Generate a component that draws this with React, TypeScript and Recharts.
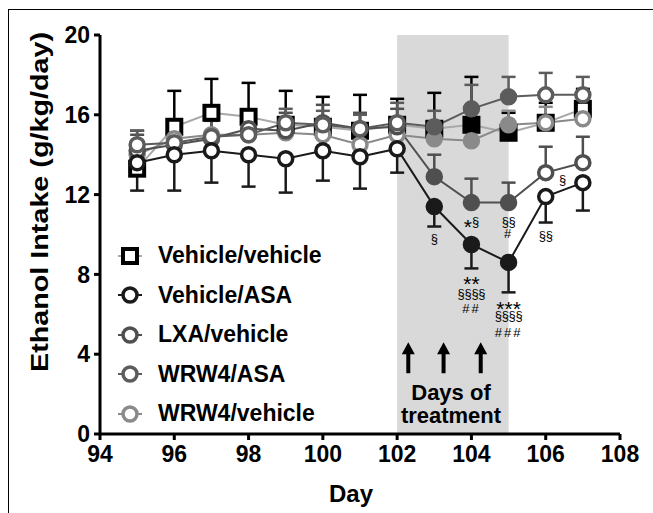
import React from 'react';
import {
	ComposedChart,
	Line,
	XAxis,
	YAxis,
	ErrorBar,
	ReferenceArea,
	ReferenceDot,
	Legend,
} from 'recharts';

const days = [95, 96, 97, 98, 99, 100, 101, 102, 103, 104, 105, 106, 107];
const treatmentDays = [103, 104, 105];
const arrowDays = [102.3, 103.25, 104.25];

// mean intake per group
const vehVeh = [13.3, 15.4, 16.1, 15.9, 15.5, 15.4, 15.2, 15.5, 15.3, 15.5, 15.1, 15.6, 16.3];
const vehAsa = [13.6, 14.0, 14.2, 14.0, 13.8, 14.2, 13.9, 14.3, 11.4, 9.5, 8.6, 11.9, 12.6];
const lxaVeh = [14.2, 14.5, 14.8, 15.3, 15.2, 15.6, 15.3, 15.4, 12.9, 11.6, 11.6, 13.1, 13.6];
const wrwAsa = [14.5, 14.6, 14.9, 15.0, 15.6, 15.5, 15.3, 15.6, 15.4, 16.3, 16.9, 17.0, 17.0];
const wrwVeh = [14.0, 14.8, 15.0, 15.0, 15.1, 15.0, 14.5, 15.0, 14.8, 14.7, 15.5, 15.6, 15.8];

// SEM (only one side is drawn, like the original)
const vehVehErr = [1.9, 1.8, 1.7, 1.7, 1.7, 1.5, 1.8, 1.3, 1.8, 2.4, 1.0, 1.0, 1.0];
const vehAsaErr = [1.4, 1.8, 1.6, 1.6, 1.7, 1.5, 1.6, 1.2, 1.0, 1.2, 1.5, 1.3, 1.4];
const lxaVehErr = [0.8, 0.8, 0.9, 0.9, 0.9, 0.9, 0.8, 0.9, 1.1, 1.2, 1.0, 1.3, 1.3];
const wrwAsaErr = [0.7, 0.7, 0.8, 0.8, 0.7, 0.7, 0.7, 1.0, 0.8, 1.2, 1.0, 1.1, 0.9];
const wrwVehErr = [0.6, 0.6, 0.7, 0.7, 0.6, 0.6, 0.6, 0.8, 0.7, 0.8, 0.7, 0.8, 0.7];

const notes = [
	{ day: 103, value: 9.8, text: '§' },
	{ day: 104, value: 10.7, text: '*§' },
	{ day: 105, value: 10.7, text: '§§' },
	{ day: 105, value: 10.1, text: '#' },
	{ day: 104, value: 7.8, text: '**' },
	{ day: 104, value: 7.05, text: '§§§§' },
	{ day: 104, value: 6.3, text: '##' },
	{ day: 105, value: 6.55, text: '***' },
	{ day: 105, value: 5.95, text: '§§§§' },
	{ day: 105, value: 5.1, text: '###' },
	{ day: 106, value: 10.0, text: '§§' },
	{ day: 106.45, value: 12.8, text: '§' },
];

const series = [
	{ key: 'vehVeh', name: 'Vehicle/vehicle', values: vehVeh, err: vehVehErr, up: true, color: '#000000', line: '#a8a8a8', square: true },
	{ key: 'wrwVeh', name: 'WRW4/vehicle', values: wrwVeh, err: wrwVehErr, up: true, color: '#8a8a8a', line: '#8a8a8a', square: false },
	{ key: 'lxaVeh', name: 'LXA/vehicle', values: lxaVeh, err: lxaVehErr, up: true, color: '#4f4f4f', line: '#4f4f4f', square: false },
	{ key: 'wrwAsa', name: 'WRW4/ASA', values: wrwAsa, err: wrwAsaErr, up: true, color: '#5c5c5c', line: '#5c5c5c', square: false },
	{ key: 'vehAsa', name: 'Vehicle/ASA', values: vehAsa, err: vehAsaErr, up: false, color: '#1a1a1a', line: '#1a1a1a', square: false },
];
const legendOrder = ['vehVeh', 'vehAsa', 'lxaVeh', 'wrwAsa', 'wrwVeh'];

const data = days.map((d, i) => {
	const row: any = { day: d };
	series.forEach(s => {
		row[s.key] = s.values[i];
		row[s.key + 'Err'] = s.up ? [0, s.err[i]] : [s.err[i], 0];
	});
	return row;
});

const font = '"Liberation Sans", Arial, sans-serif';

const Marker = ({ cx, cy, color, filled, square }: any) =>
	square ? (
		<rect x={cx - 7} y={cy - 7} width={14} height={14} fill={filled ? color : '#fff'} stroke={color} strokeWidth={4} />
	) : (
		<circle cx={cx} cy={cy} r={7} fill={filled ? color : '#fff'} stroke={color} strokeWidth={3.5} />
	);

const makeDot = (s: any) => (props: any) => {
	const { cx, cy, payload, index } = props;
	return (
		<Marker
			key={s.key + index}
			cx={cx}
			cy={cy}
			color={s.color}
			square={s.square}
			filled={treatmentDays.includes(payload.day)}
		/>
	);
};

const LegendBox = () => (
	<div style={{ fontFamily: font, fontWeight: 'bold', fontSize: 23 }}>
		{legendOrder.map(k => {
			const s: any = series.find(x => x.key === k);
			return (
				<div key={k} style={{ display: 'flex', alignItems: 'center', height: 39.5 }}>
					<svg width={40} height={24} style={{ marginRight: 2 }}>
						<line x1={2} y1={12} x2={26} y2={12} stroke={s.line} strokeWidth={2} />
						<Marker cx={14} cy={12} color={s.color} square={s.square} filled={false} />
					</svg>
					<span>{s.name}</span>
				</div>
			);
		})}
	</div>
);

const Arrow = ({ cx, cy }: any) => (
	<g>
		<rect x={cx - 2} y={cy + 10} width={4} height={21} fill='#000' />
		<path d={`M${cx - 6.5},${cy + 12} L${cx},${cy} L${cx + 6.5},${cy + 12} Z`} fill='#000' />
	</g>
);

// stars are drawn larger and pulled down, § and # small
const Note = ({ cx, cy, text }: any) => {
	const parts = text.match(/(\*+|§+|#+)/g) || [];
	return (
		<text x={cx} y={cy} textAnchor='middle' dominantBaseline='central' fontFamily={font} fill='#000'>
			{parts.map((p: string, i: number) => {
				const star = p[0] === '*';
				return (
					<tspan
						key={i}
						fontSize={star ? 21 : 13}
						dy={i === 0 ? (star ? 5 : 0) : star ? 5 : -5}
						letterSpacing={p[0] === '#' ? 2 : star ? 0 : -0.3}
					>
						{p}
					</tspan>
				);
			})}
		</text>
	);
};

export default function App() {
	return (
		<div style={{ position: 'absolute', left: 0, top: 0, width: 653, height: 513, background: '#fff' }}>
			<div
				style={{
					position: 'absolute',
					left: 8,
					top: 9,
					width: 645,
					height: 504,
					borderLeft: '1px solid #000',
					borderTop: '1px solid #000',
				}}
			/>
			<ComposedChart
				width={653}
				height={513}
				data={data}
				margin={{ top: 35, right: 33, bottom: 0, left: 0 }}
				style={{ position: 'absolute', left: 0, top: 0 }}
			>
				<ReferenceArea x1={102} x2={105} y1={0} y2={20} fill='#d9d9d9' fillOpacity={1} stroke='none' />
				<XAxis
					dataKey='day'
					type='number'
					domain={[94, 108]}
					ticks={[94, 96, 98, 100, 102, 104, 106, 108]}
					height={79}
					tickSize={6}
					tickMargin={6}
					axisLine={{ stroke: '#000', strokeWidth: 3 }}
					tickLine={{ stroke: '#000', strokeWidth: 3 }}
					tick={{ fill: '#000', fontSize: 23, fontWeight: 'bold', fontFamily: font }}
					label={(p: any) => {
						const vb = p.viewBox;
						return (
							<text
								x={vb.x + vb.width / 2 - 9}
								y={493}
								textAnchor='middle'
								dominantBaseline='central'
								fontFamily={font}
								fontWeight='bold'
								fontSize={24}
								fill='#000'
							>
								Day
							</text>
						);
					}}
				/>
				<YAxis
					type='number'
					domain={[0, 20]}
					ticks={[0, 4, 8, 12, 16, 20]}
					width={100}
					tickSize={6}
					tickMargin={4}
					axisLine={{ stroke: '#000', strokeWidth: 3 }}
					tickLine={{ stroke: '#000', strokeWidth: 3 }}
					tick={{ fill: '#000', fontSize: 23, fontWeight: 'bold', fontFamily: font }}
					label={() => {
						const cy = 202;
						return (
							<text
								x={39}
								y={cy}
								transform={`rotate(-90, 39, ${cy})`}
								textAnchor='middle'
								dominantBaseline='central'
								fontFamily={font}
								fontWeight='bold'
								fontSize={24}
								textLength={340}
								lengthAdjust='spacingAndGlyphs'
								fill='#000'
							>
								Ethanol Intake (g/kg/day)
							</text>
						);
					}}
				/>
				{series.map(s => (
					<Line
						key={s.key}
						dataKey={s.key}
						name={s.name}
						stroke={s.line}
						strokeWidth={2}
						dot={makeDot(s)}
						activeDot={false}
						isAnimationActive={false}
					>
						<ErrorBar dataKey={s.key + 'Err'} direction='y' width={7} stroke={s.color} strokeWidth={2.5} />
					</Line>
				))}
				{notes.map((n, i) => (
					<ReferenceDot
						key={'n' + i}
						x={n.day}
						y={n.value}
						r={0}
						shape={(p: any) => <Note cx={p.cx} cy={p.cy} text={n.text} />}
					/>
				))}
				{arrowDays.map((d, i) => (
					<ReferenceDot key={'a' + i} x={d} y={4.6} r={0} shape={(p: any) => <Arrow cx={p.cx} cy={p.cy} />} />
				))}
				<ReferenceDot
					x={103.45}
					y={2.1}
					r={0}
					shape={(p: any) => (
						<text x={p.cx} y={p.cy} textAnchor='middle' dominantBaseline='central' fontFamily={font} fontWeight='bold' fontSize={22} fill='#000'>
							Days of
						</text>
					)}
				/>
				<ReferenceDot
					x={103.45}
					y={0.95}
					r={0}
					shape={(p: any) => (
						<text x={p.cx} y={p.cy} textAnchor='middle' dominantBaseline='central' fontFamily={font} fontWeight='bold' fontSize={22} fill='#000'>
							treatment
						</text>
					)}
				/>
				<Legend
					layout='horizontal'
					verticalAlign='middle'
					align='center'
					content={() => <LegendBox />}
					wrapperStyle={{ left: 116, top: 236, width: 250, height: 200 }}
				/>
			</ComposedChart>
		</div>
	);
}
